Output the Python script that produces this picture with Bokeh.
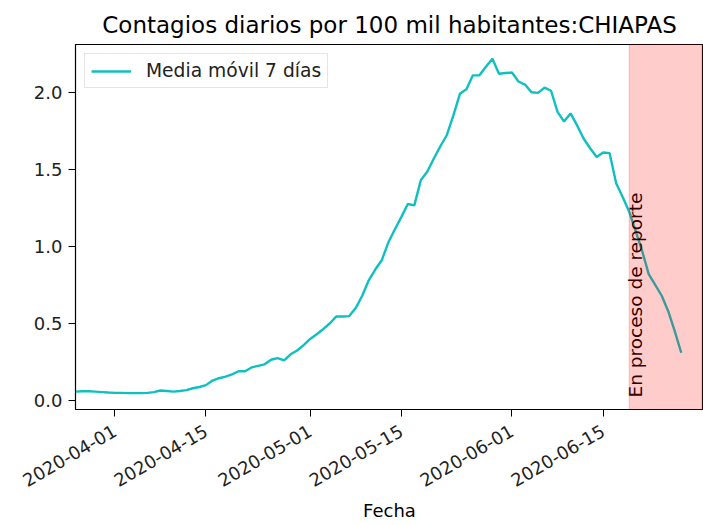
import math
import pandas as pd
from bokeh.plotting import figure
from bokeh.models import (ColumnDataSource, FixedTicker, DatetimeTickFormatter,
                          NumeralTickFormatter, BoxAnnotation, Range1d, Legend)
from bokeh.core.properties import value
from bokeh.embed import file_html
from bokeh.resources import INLINE

# ---- data ----
title_text = "Contagios diarios por 100 mil habitantes:CHIAPAS"
series_label = "Media móvil 7 días"
x_label = "Fecha"
span_label = "En proceso de reporte"

first_date = "2020-03-26"
last_date = "2020-06-27"
report_start = "2020-06-19"
x_min = "2020-03-25 23:00"
x_max = "2020-06-30 10:00"

media_movil = [
    0.058, 0.060, 0.060, 0.058, 0.055, 0.052,
    0.050, 0.050, 0.048, 0.048, 0.048, 0.050, 0.055, 0.065, 0.062, 0.058,
    0.062, 0.068, 0.080, 0.088, 0.100, 0.130, 0.145, 0.155, 0.170, 0.190,
    0.190, 0.215, 0.225, 0.235, 0.265, 0.275, 0.260, 0.300, 0.325, 0.360,
    0.400, 0.430, 0.463, 0.500, 0.545, 0.545, 0.548, 0.600, 0.680, 0.780,
    0.850, 0.910, 1.025, 1.110, 1.190, 1.275, 1.266, 1.430, 1.486, 1.570,
    1.650, 1.723, 1.850, 1.990, 2.020, 2.110, 2.110, 2.165, 2.218, 2.120,
    2.125, 2.128, 2.070, 2.050, 2.000, 1.996, 2.030, 2.010, 1.873, 1.810,
    1.863, 1.785, 1.700, 1.637, 1.580, 1.609, 1.605, 1.410, 1.320, 1.225,
    1.100, 0.970, 0.820, 0.750, 0.680, 0.580, 0.450, 0.310,
]

x_tick_labels = ["2020-04-01", "2020-04-15", "2020-05-01",
                 "2020-05-15", "2020-06-01", "2020-06-15"]
y_ticks = [0.0, 0.5, 1.0, 1.5, 2.0]
y_min, y_max = -0.058, 2.31

# ---- build ----
fechas = pd.date_range(first_date, last_date, freq="D")
src = ColumnDataSource(dict(fecha=fechas, valor=media_movil))

FONT = "DejaVu Sans"

p = figure(width=703, height=524, x_axis_type="datetime",
           output_backend="svg", toolbar_location=None,
           x_range=Range1d(pd.Timestamp(x_min), pd.Timestamp(x_max)),
           y_range=Range1d(y_min, y_max),
           min_border_left=75, min_border_right=0, min_border_top=44)

p.title.text = title_text
p.title.align = "center"
p.title.text_font = FONT
p.title.text_font_size = "23px"
p.title.text_font_style = "normal"
p.title.text_color = "black"
p.title.standoff = 14

p.xgrid.visible = False
p.ygrid.visible = False
p.outline_line_color = "black"
p.outline_line_width = 1.2

span = BoxAnnotation(left=pd.Timestamp(report_start), fill_color="red",
                     fill_alpha=0.2, line_color="red", line_alpha=0.2)
p.add_layout(span)

r = p.line("fecha", "valor", source=src, line_color="#10C0C0", line_width=2.4)

p.text(x=[pd.Timestamp(report_start)], y=[0.0], text=[span_label],
       angle=math.pi / 2, text_align="left", text_baseline="top",
       text_font=value(FONT), text_font_size="18.5px", text_color="black",
       x_offset=-4, y_offset=-3)

tick_ms = [pd.Timestamp(t).value / 1e6 for t in x_tick_labels]
p.xaxis.ticker = FixedTicker(ticks=tick_ms)
fmt = "%Y-%m-%d"
p.xaxis.formatter = DatetimeTickFormatter(days=fmt, months=fmt, years=fmt,
                                          hours=fmt, minutes=fmt)
p.xaxis.major_label_orientation = math.pi / 6
p.xaxis.axis_label = x_label

p.yaxis.ticker = FixedTicker(ticks=y_ticks)
p.yaxis.formatter = NumeralTickFormatter(format="0.0")

for ax in (p.xaxis, p.yaxis):
    ax.major_label_text_font = FONT
    ax.major_label_text_font_size = "18px"
    ax.major_label_text_color = "#222222"
    ax.axis_label_text_font = FONT
    ax.axis_label_text_font_size = "18px"
    ax.axis_label_text_font_style = "normal"
    ax.axis_label_text_color = "black"
    ax.axis_line_color = None
    ax.major_tick_line_color = "black"
    ax.major_tick_in = 0
    ax.major_tick_out = 7
    ax.minor_tick_line_color = None
    ax.major_label_standoff = 6
p.xaxis.major_label_standoff = 13
p.xaxis.axis_label_standoff = 4

legend = Legend(items=[(series_label, [r])], location="top_left")
legend.label_text_font = FONT
legend.label_text_font_size = "18.7px"
legend.label_text_color = "#222222"
legend.border_line_color = "#cccccc"
legend.border_line_width = 1
legend.background_fill_alpha = 0.8
legend.padding = 6
legend.margin = 9
legend.glyph_width = 40
legend.label_standoff = 15
p.add_layout(legend)

open("out.html", "w").write(file_html(p, INLINE))
